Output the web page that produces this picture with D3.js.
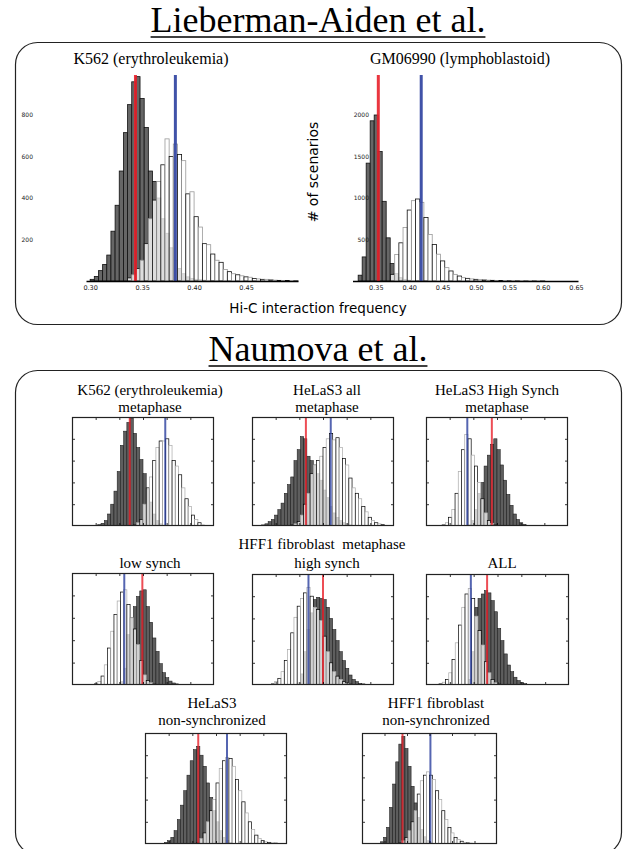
<!DOCTYPE html>
<html><head><meta charset="utf-8">
<script src="https://cdn.jsdelivr.net/npm/d3@7"></script>
<style>body{margin:0;background:#fff}svg{display:block}</style>
</head><body>
<script>
// ---------------- DATA ----------------
// Lieberman-Aiden et al. panels (bin start, bin width, counts)
const liebTitles = ["K562 (erythroleukemia)", "GM06990 (lymphoblastoid)"];
const k562XTicks = [0.30, 0.35, 0.40, 0.45];
const k562YTicks = [200, 400, 600, 800];
const k562DarkStart = 0.300, k562DarkWidth = 0.004;
const k562Dark = [8,22,50,80,125,240,365,530,715,850,960,985,880,740,530,480,400,300,230,160,100,60,35,20,12,8,6,4,3,2,2,1,1];
const k562LightStart = 0.336, k562LightWidth = 0.004;
const k562Light = [15,30,60,100,180,300,390,480,560,685,600,660,610,580,420,430,310,260,180,175,130,100,90,55,45,35,30,25,20,18,12,10,8,8,5,4,3,2,2,1,1];
const k562Red = 0.3436, k562Blue = 0.3820;

const gmXTicks = [0.35, 0.40, 0.45, 0.50, 0.55, 0.60, 0.65];
const gmYTicks = [500, 1000, 1500, 2000];
const gmDarkStart = 0.3235, gmDarkWidth = 0.006;
const gmDark = [70,290,1420,1930,2000,1560,960,520,210,90,40,20,10,6,4,3,2,1];
const gmLightStart = 0.372, gmLightWidth = 0.00625;
const gmLight = [80,320,460,645,855,968,988,948,766,560,440,323,242,161,121,80,60,40,32,25,20,16,12,10,8,6,5,4,3,3,2,2,1,1,1,1,1];
const gmRed = 0.3537, gmBlue = 0.4180;

// Naumova et al. panels (values in bins, 44 bins per panel)
const nauTitles = [
  ["K562 (erythroleukemia)", "metaphase"], ["HeLaS3 all", "metaphase"], ["HeLaS3 High Synch", "metaphase"],
  ["low synch"], ["high synch"], ["ALL"],
  ["HeLaS3", "non-synchronized"], ["HFF1 fibroblast", "non-synchronized"]
];
const nauRowHeader = "HFF1 fibroblast  metaphase";
const nauDarkStart = [7, 3, 13, 15, 14, 13, 5, 5];
const nauDark = [
  [5,12,25,50,110,200,320,500,740,870,950,990,850,720,610,480,340,220,110,50,20,8,4],
  [10,20,40,60,100,150,210,300,380,450,600,700,820,800,640,600,560,480,420,330,260,180,120,80,50,30,20,10,5],
  [10,50,150,300,400,550,650,750,800,700,560,420,290,190,110,60,30,15,6],
  [30,150,450,600,700,790,840,850,700,560,420,300,190,110,65,35,18,10,5],
  [20,100,300,500,650,770,790,780,770,700,600,500,400,300,220,150,90,50,30,15,10,5],
  [50,300,700,780,820,850,830,760,660,510,400,280,180,120,70,40,22,12,6],
  [5,15,30,60,120,220,350,480,620,750,850,880,800,700,550,420,300,200,120,60,30,12,5],
  [5,20,60,150,330,540,740,900,970,860,700,520,370,240,130,65,30,12,5]
];
const nauLightStart = [19, 12, 5, 7, 6, 4, 16, 12];
const nauLight = [
  [10,30,60,200,350,450,600,720,780,780,800,740,600,550,470,350,250,180,100,60,30,10,5],
  [10,20,40,100,200,300,480,560,600,640,720,800,850,790,810,720,620,560,440,350,300,250,180,130,80,50,30,20,12,6],
  [10,30,80,150,300,500,700,840,800,650,550,400,250,120,50,25,10,5],
  [10,30,80,180,330,480,630,750,830,850,720,600,500,360,220,90,40,20,8],
  [10,30,60,120,220,320,470,610,710,780,830,880,800,700,680,580,440,300,200,120,80,50,30,15,8],
  [10,25,50,110,230,380,540,700,820,870,780,620,490,360,210,110,50,20,8],
  [10,50,100,200,300,400,550,680,750,780,770,700,580,480,380,280,200,130,80,50,30,20,15,10,8,5],
  [10,30,60,120,200,300,450,570,620,650,620,580,480,400,300,220,150,100,60,40,25,15,10,8,5,4,3,2]
];
const nauRed  = [17.9, 16.7, 20.4, 21.8, 22.0, 18.8, 16.5, 13.2];
const nauBlue = [28.9, 24.4, 12.8, 16.2, 17.5, 13.8, 25.4, 22.3];

// ---------------- DRAW ----------------
const W = 624, H = 849;
const serif = "'Liberation Serif', 'DejaVu Serif', serif";
const sans = "'DejaVu Sans', sans-serif";
const RED = "#e8202a", BLUE = "#2b3f9e";
const svg = d3.select("body").append("svg").attr("width", W).attr("height", H);

function bigTitle(txt, x, y, size) {
  const t = svg.append("text").attr("x", x).attr("y", y).attr("text-anchor", "middle")
    .attr("font-family", serif).attr("font-size", size).text(txt);
  const w = t.node().getComputedTextLength();
  svg.append("line").attr("x1", x - w / 2).attr("x2", x + w / 2)
    .attr("y1", y + 5).attr("y2", y + 5).attr("stroke", "#000").attr("stroke-width", 1.6);
}
bigTitle("Lieberman-Aiden et al.", 318, 32, 36);
bigTitle("Naumova et al.", 318, 361, 36);

svg.append("rect").attr("x", 15.5).attr("y", 42.5).attr("width", 606).attr("height", 282)
  .attr("rx", 22).attr("fill", "none").attr("stroke", "#222").attr("stroke-width", 1.2);
svg.append("rect").attr("x", 15.5).attr("y", 370.5).attr("width", 606).attr("height", 484)
  .attr("rx", 22).attr("fill", "none").attr("stroke", "#222").attr("stroke-width", 1.2);

function liebPanel(o) {
  const g = svg.append("g");
  const x = d3.scaleLinear().domain(o.xDomain).range(o.xRange);
  const y = d3.scaleLinear().domain([0, o.yMax]).range([281, 73.5]);
  const bars = (data, start, bw, cls) => g.selectAll("rect." + cls).data(data).join("rect")
    .attr("class", cls)
    .attr("x", (d, i) => x(start + i * bw))
    .attr("width", (d, i) => x(start + (i + 1) * bw) - x(start + i * bw))
    .attr("y", d => y(d)).attr("height", d => y(0) - y(d));
  bars(o.dark, o.darkStart, o.darkW, "dk").attr("fill", "#666").attr("stroke", "#111").attr("stroke-width", 0.8);
  bars(o.light, o.lightStart, o.lightW, "lt").attr("fill", "#fff").attr("fill-opacity", 0.78)
    .attr("stroke", (d, i) => i % 2 ? "#999" : "#111").attr("stroke-width", 0.8);
  [[o.red, RED], [o.blue, BLUE]].forEach(([v, c]) => {
    g.append("line").attr("x1", x(v)).attr("x2", x(v)).attr("y1", 75).attr("y2", 281)
      .attr("stroke", c).attr("stroke-width", 3).attr("stroke-opacity", 0.9);
  });
  const ax = g.append("g").attr("transform", "translate(0,281)")
    .call(d3.axisBottom(x).tickValues(o.xTicks).tickSize(0).tickPadding(4).tickFormat(d3.format(".2f")));
  ax.select(".domain").attr("stroke", "#000").attr("stroke-width", 1.5);
  ax.selectAll("text").attr("font-family", sans).attr("font-size", 6.5).attr("fill", "#222");
  const ay = g.append("g").attr("transform", `translate(${o.yLabelX},0)`)
    .call(d3.axisLeft(y).tickValues(o.yTicks).tickSize(0).tickPadding(0).tickFormat(d3.format("d")));
  ay.select(".domain").remove();
  ay.selectAll("text").attr("font-family", sans).attr("font-size", 6).attr("fill", "#222");
  g.append("text").attr("x", o.titleX).attr("y", 64).attr("text-anchor", "middle")
    .attr("font-family", serif).attr("font-size", 16).text(o.title);
}
liebPanel({ xDomain: [0.296, 0.50], xRange: [86, 298], yMax: 1000, xTicks: k562XTicks, yTicks: k562YTicks,
  dark: k562Dark, darkStart: k562DarkStart, darkW: k562DarkWidth,
  light: k562Light, lightStart: k562LightStart, lightW: k562LightWidth,
  red: k562Red, blue: k562Blue, yLabelX: 33, title: liebTitles[0], titleX: 151 });
liebPanel({ xDomain: [0.315, 0.653], xRange: [352.5, 578], yMax: 2500, xTicks: gmXTicks, yTicks: gmYTicks,
  dark: gmDark, darkStart: gmDarkStart, darkW: gmDarkWidth,
  light: gmLight, lightStart: gmLightStart, lightW: gmLightWidth,
  red: gmRed, blue: gmBlue, yLabelX: 369, title: liebTitles[1], titleX: 460 });

svg.append("text").attr("x", 318).attr("y", 313).attr("text-anchor", "middle")
  .attr("font-family", sans).attr("font-size", 13.5).text("Hi-C interaction frequency");
svg.append("text").attr("transform", "translate(318,172) rotate(-90)").attr("text-anchor", "middle")
  .attr("font-family", sans).attr("font-size", 14).text("# of scenarios");

// Naumova panels
const boxes = [[72,417,142,109],[252,417,142,109],[426,417,142,109],
               [72,573,142,112],[252,574,142,111],[426,574,143,111],
               [145,733,142,111],[362,733,135,111]];
const titlePos = [[150,395],[327,395],[497,395],[150,568],[327,568],[502,568],[212,708],[436,708]];
const NB = 44;
const TFS = 15, TLH = 16.7;

boxes.forEach((b, i) => {
  const [bx, by, bw, bh] = b;
  const x = d3.scaleLinear().domain([0, NB]).range([bx, bx + bw]);
  const y = d3.scaleLinear().domain([0, 1000]).range([by + bh, by]);
  const g = svg.append("g");
  const cid = "clip" + i;
  g.append("clipPath").attr("id", cid).append("rect").attr("x", bx).attr("y", by).attr("width", bw).attr("height", bh);
  const inner = g.append("g").attr("clip-path", `url(#${cid})`);
  const bars = (data, start, cls) => inner.selectAll("rect." + cls).data(data).join("rect")
    .attr("class", cls)
    .attr("x", (d, j) => x(start + j)).attr("width", x(1) - x(0))
    .attr("y", d => y(d)).attr("height", d => y(0) - y(d));
  bars(nauDark[i], nauDarkStart[i], "dk").attr("fill", "#5e5e5e").attr("stroke", "#1a1a1a").attr("stroke-width", 0.55);
  bars(nauLight[i], nauLightStart[i], "lt").attr("fill", "#fff").attr("fill-opacity", 0.72)
    .attr("stroke", (d, j) => j % 2 ? "#aaa" : "#000").attr("stroke-width", 0.7);
  [[nauRed[i], RED], [nauBlue[i], BLUE]].forEach(([v, c]) => {
    inner.append("line").attr("x1", x(v)).attr("x2", x(v)).attr("y1", by).attr("y2", by + bh)
      .attr("stroke", c).attr("stroke-width", 2).attr("stroke-opacity", 0.8);
  });
  const ux = d3.scaleLinear().domain([0, 1]).range([bx, bx + bw]);
  const uy = d3.scaleLinear().domain([0, 1]).range([by + bh, by]);
  const xt = [1, 2, 3, 4, 5].map(k => k / 6), yt = [1, 2, 3, 4].map(k => k / 5);
  const tk = sel => { sel.select(".domain").remove(); sel.selectAll("line").attr("stroke", "#000").attr("stroke-width", 0.8); };
  g.append("g").attr("transform", `translate(0,${by + bh})`).call(d3.axisBottom(ux).tickValues(xt).tickSize(-3).tickFormat("")).call(tk);
  g.append("g").attr("transform", `translate(0,${by})`).call(d3.axisTop(ux).tickValues(xt).tickSize(-3).tickFormat("")).call(tk);
  g.append("g").attr("transform", `translate(${bx},0)`).call(d3.axisLeft(uy).tickValues(yt).tickSize(-3).tickFormat("")).call(tk);
  g.append("g").attr("transform", `translate(${bx + bw},0)`).call(d3.axisRight(uy).tickValues(yt).tickSize(-3).tickFormat("")).call(tk);
  g.append("rect").attr("x", bx + 0.5).attr("y", by + 0.5).attr("width", bw - 1).attr("height", bh - 1)
    .attr("fill", "none").attr("stroke", "#222").attr("stroke-width", 1.2);
  const [tx, ty] = titlePos[i];
  nauTitles[i].forEach((line, k) => {
    g.append("text").attr("x", tx).attr("y", ty + k * TLH).attr("text-anchor", "middle")
      .attr("font-family", serif).attr("font-size", TFS).text(line);
  });
});
svg.append("text").attr("x", 322).attr("y", 549).attr("text-anchor", "middle")
  .attr("font-family", serif).attr("font-size", TFS).style("white-space", "pre").text(nauRowHeader);
</script>
</body></html>
